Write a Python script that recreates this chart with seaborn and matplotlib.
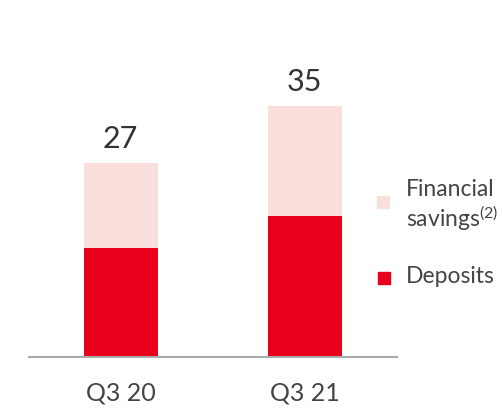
import numpy as np
import pandas as pd
import matplotlib.pyplot as plt
import matplotlib.patches as mpatches
import seaborn as sns

# data
quarters = ["Q3 20", "Q3 21"]
deposits = [15.2, 19.6]
financial_savings = [11.8, 15.4]
totals = [27, 35]
legend_labels = ["Financial", "savings$^{(2)}$", "Deposits"]

red = "#E8001C"
pink = "#FADEDB"
txt = "#444444"

sns.set_style("white")
plt.rcParams['font.family'] = ['Lato', 'DejaVu Sans']
plt.rcParams['mathtext.fontset'] = 'custom'
plt.rcParams['mathtext.rm'] = 'Lato'
plt.rcParams['mathtext.it'] = 'Lato'

df = pd.DataFrame({'quarter': quarters, 'deposits': deposits,
                   'savings': financial_savings})
df['stack'] = df['deposits'] + df['savings']

fig = plt.figure(figsize=(5.03, 4.09), dpi=100)
ax = fig.add_axes([28.7/503, 52.3/409, 368/503, 356.7/409])

sns.barplot(data=df, x='quarter', y='stack', color=pink, width=0.4,
            saturation=1, linewidth=0, ax=ax)
sns.barplot(data=df, x='quarter', y='deposits', color=red, width=0.4,
            saturation=1, linewidth=0, ax=ax)

ax.bar_label(ax.containers[0], labels=[str(t) for t in totals],
             padding=7, fontsize=22, color="#333333")

ax.set_xlim(-0.5, 1.5)
ax.set_ylim(0, 49.7)
ax.set_xlabel('')
ax.set_ylabel('')
ax.set_yticks([])
sns.despine(ax=ax, left=True)
ax.spines['bottom'].set_color('#aaaaaa')
ax.spines['bottom'].set_linewidth(1.5)
ax.tick_params(axis='x', length=0, pad=18, labelsize=18, labelcolor=txt)

# legend drawn by hand
fig.patches.append(mpatches.Rectangle((377.3/503, 1-207.7/409), 12/503, 11.7/409,
                                      transform=fig.transFigure, color=pink))
fig.patches.append(mpatches.Rectangle((378/503, 1-284/409), 12/503, 12.3/409,
                                      transform=fig.transFigure, color=red))
fig.text(405.7/503, 1-196/409, legend_labels[0], va='baseline', fontsize=16.5, color=txt)
fig.text(405.7/503, 1-226.7/409, legend_labels[1], va='baseline', fontsize=16.5, color=txt)
fig.text(405.7/503, 1-282.7/409, legend_labels[2], va='baseline', fontsize=16.5, color=txt)

fig.savefig('out.png', dpi=100)
